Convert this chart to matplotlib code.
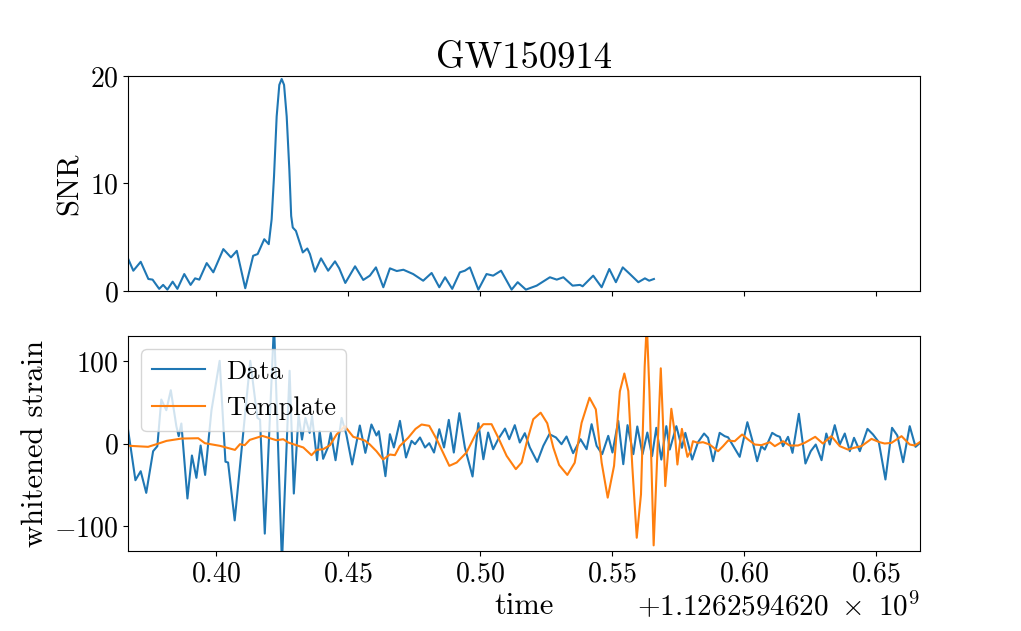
import matplotlib
matplotlib.use('Agg')
import matplotlib.pyplot as plt
from matplotlib.ticker import ScalarFormatter

# Computer Modern look (no LaTeX available)
plt.rcParams['font.family'] = 'serif'
plt.rcParams['font.serif'] = ['cmr10']
plt.rcParams['mathtext.fontset'] = 'cm'
plt.rcParams['axes.formatter.use_mathtext'] = True
plt.rcParams['font.size'] = 22

GPS_OFFSET = 1126259462.0

# ---- SNR time series (seconds after GPS_OFFSET) ----
snr_time = [0.3666, 0.3685, 0.3713, 0.3742, 0.3758, 0.3783, 0.3798, 0.3814, 0.3834, 0.3852,
            0.3878, 0.3902, 0.3919, 0.3935, 0.3963, 0.3988, 0.4026, 0.4055, 0.4077, 0.4109,
            0.4139, 0.4156, 0.4181, 0.4198, 0.4209, 0.4218, 0.4228, 0.4238, 0.4247, 0.4256,
            0.4266, 0.4276, 0.4283, 0.4289, 0.4301, 0.4313, 0.4327, 0.4344, 0.4354, 0.4373,
            0.4396, 0.4423, 0.4449, 0.4465, 0.4488, 0.4525, 0.4556, 0.4581, 0.4604, 0.4632,
            0.4657, 0.4683, 0.4708, 0.4745, 0.4783, 0.4815, 0.4844, 0.4866, 0.4893, 0.4922,
            0.4941, 0.4960, 0.4992, 0.5023, 0.5048, 0.5078, 0.5118, 0.5141, 0.5172, 0.5213,
            0.5263, 0.5289, 0.5314, 0.5349, 0.5377, 0.5387, 0.5427, 0.5459, 0.5488, 0.5513,
            0.5539, 0.5566, 0.5598, 0.5623, 0.5639, 0.5657]
snr_value = [2.96, 1.88, 2.71, 1.11, 1.05, 0.19, 0.56, 0.12, 0.86, 0.19,
             1.57, 0.56, 1.17, 1.05, 2.59, 1.73, 3.89, 3.12, 3.73, 0.25,
             3.27, 3.43, 4.81, 4.35, 6.67, 10.68, 16.23, 19.17, 19.72, 19.17,
             16.23, 11.30, 6.97, 5.90, 5.58, 4.66, 3.58, 3.95, 3.43, 1.79,
             3.03, 1.88, 2.75, 2.10, 0.74, 2.29, 1.02, 1.42, 2.19, 0.34,
             2.10, 1.85, 1.97, 1.57, 0.95, 1.67, 0.34, 1.27, 0.19, 1.73,
             1.88, 2.19, 0.12, 1.57, 1.42, 1.88, 0.12, 0.81, 0.12, 0.49,
             1.27, 1.05, 1.27, 0.49, 0.56, 0.43, 1.42, 0.34, 2.04, 0.81,
             2.19, 1.57, 0.81, 1.17, 0.95, 1.11]

# ---- whitened strain data ----
data_time = [0.3665, 0.3693, 0.3713, 0.3734, 0.3760, 0.3776, 0.3791, 0.3810, 0.3827, 0.3848,
             0.3857, 0.3867, 0.3890, 0.3907, 0.3924, 0.3940, 0.3957, 0.3981, 0.4012, 0.4034,
             0.4044, 0.4069, 0.4094, 0.4128, 0.4155, 0.4165, 0.4183, 0.4218, 0.4248, 0.4277,
             0.4293, 0.4311, 0.4324, 0.4337, 0.4353, 0.4362, 0.4381, 0.4391, 0.4404, 0.4423,
             0.4433, 0.4451, 0.4474, 0.4492, 0.4514, 0.4543, 0.4564, 0.4587, 0.4606, 0.4615,
             0.4640, 0.4657, 0.4672, 0.4695, 0.4718, 0.4739, 0.4752, 0.4771, 0.4790, 0.4806,
             0.4824, 0.4844, 0.4862, 0.4880, 0.4899, 0.4920, 0.4941, 0.4970, 0.4992, 0.5011,
             0.5029, 0.5048, 0.5067, 0.5093, 0.5109, 0.5130, 0.5149, 0.5168, 0.5187, 0.5215,
             0.5238, 0.5261, 0.5286, 0.5307, 0.5326, 0.5351, 0.5379, 0.5402, 0.5421, 0.5440,
             0.5461, 0.5484, 0.5500, 0.5522, 0.5541, 0.5557, 0.5579, 0.5594, 0.5614, 0.5632,
             0.5650, 0.5666, 0.5685, 0.5704, 0.5717, 0.5742, 0.5763, 0.5776, 0.5802, 0.5824,
             0.5847, 0.5862, 0.5881, 0.5906, 0.5925, 0.5938, 0.5982, 0.6011, 0.6029, 0.6048,
             0.6064, 0.6077, 0.6105, 0.6121, 0.6134, 0.6146, 0.6165, 0.6182, 0.6206, 0.6231,
             0.6251, 0.6270, 0.6292, 0.6310, 0.6323, 0.6342, 0.6361, 0.6380, 0.6399, 0.6415,
             0.6437, 0.6466, 0.6487, 0.6509, 0.6534, 0.6559, 0.6579, 0.6601, 0.6626, 0.6648,
             0.6665]
data_strain = [17.0, -44.4, -33.5, -59.7, -9.3, -3.2, 53.2, 40.3, 64.5, 21.0,
               8.9, 24.2, -66.5, -14.5, -41.5, -2.4, -38.0, 40.0, 100.0, -22.0,
               -23.0, -93.0, -11.3, 100.0, 31.0, 29.0, -109.0, 145.0, -145.0, 88.0,
               -60.5, 35.0, 4.8, 31.0, 12.9, 33.1, -20.2, 14.9, -18.5, -4.0,
               12.9, -20.2, 31.0, 10.9, -25.4, 21.8, -11.3, 23.0, 9.7, 14.9,
               -39.5, 11.3, -4.8, 27.4, -16.9, 3.2, -0.8, 7.3, -4.8, 0.4,
               -10.9, 17.3, -4.8, 28.6, -10.9, 36.7, -4.8, -39.9, 24.6, -19.0,
               13.3, -6.9, 5.2, 18.1, 5.2, 22.2, 1.2, 12.5, -4.8, -22.2,
               -2.8, 11.3, 7.3, -0.8, 8.5, -11.7, 5.2, -6.9, 23.4, -2.8,
               -12.9, 9.3, -10.9, 27.4, -25.0, 22.2, -12.9, 20.6, -12.9, 13.3,
               -15.3, 19.0, -19.4, 21.0, -7.3, 21.0, -5.2, 12.9, -19.4, 1.6,
               12.1, 6.9, -21.4, 12.9, 8.9, 7.5, -16.1, 25.8, 4.8, -21.4,
               -3.2, -7.3, 12.9, 9.7, 8.1, -3.2, 8.1, -11.3, 35.9, -24.2,
               -9.3, -1.2, -20.2, 12.1, -1.2, 22.2, -1.2, 12.1, -9.3, 6.9,
               -9.3, 17.7, 10.9, 1.6, -43.5, 19.0, 9.7, -22.6, 21.0, -4.0,
               0.8]

# ---- whitened template ----
template_time = [0.3665, 0.3672, 0.3741, 0.3773, 0.3811, 0.3868, 0.3931, 0.3956, 0.4013, 0.4070,
                 0.4089, 0.4107, 0.4126, 0.4174, 0.4227, 0.4253, 0.4272, 0.4291, 0.4329, 0.4360,
                 0.4379, 0.4404, 0.4430, 0.4455, 0.4486, 0.4518, 0.4543, 0.4562, 0.4581, 0.4606,
                 0.4631, 0.4657, 0.4676, 0.4694, 0.4726, 0.4754, 0.4777, 0.4806, 0.4834, 0.4882,
                 0.4910, 0.4947, 0.4985, 0.5011, 0.5042, 0.5067, 0.5099, 0.5134, 0.5156, 0.5175,
                 0.5200, 0.5228, 0.5253, 0.5276, 0.5298, 0.5329, 0.5357, 0.5383, 0.5413, 0.5437,
                 0.5459, 0.5482, 0.5506, 0.5528, 0.5545, 0.5560, 0.5575, 0.5592, 0.5608, 0.5622,
                 0.5630, 0.5640, 0.5656, 0.5669, 0.5683, 0.5691, 0.5700, 0.5710, 0.5723, 0.5736,
                 0.5746, 0.5754, 0.5763, 0.5773, 0.5784, 0.5796, 0.5805, 0.5824, 0.5843, 0.5868,
                 0.5900, 0.5919, 0.5938, 0.5963, 0.5991, 0.6014, 0.6039, 0.6064, 0.6096, 0.6115,
                 0.6146, 0.6171, 0.6203, 0.6228, 0.6268, 0.6297, 0.6329, 0.6361, 0.6392, 0.6415,
                 0.6443, 0.6481, 0.6512, 0.6531, 0.6557, 0.6595, 0.6626, 0.6645, 0.6664]
template_strain = [-2.4, -2.8, -4.0, -0.8, 3.2, 6.0, 6.4, 0.4, -2.8, -7.7,
                   -0.8, -2.0, 4.4, 9.2, 4.0, 5.2, 1.2, -0.8, -4.8, -14.1,
                   -7.7, -6.9, -2.0, 10.9, 21.0, 8.1, 5.6, 3.6, -1.2, -9.3,
                   -19.4, -13.3, -14.1, -3.2, 6.9, 17.7, 23.0, 21.4, 5.2, -27.0,
                   -23.0, -10.9, 13.3, 23.4, 23.4, 7.3, -14.9, -31.0, -23.0, 1.2,
                   29.4, 37.3, 24.5, -5.0, -26.0, -38.0, -23.2, 25.0, 55.4, 41.3,
                   -23.2, -65.5, -27.0, 63.0, 84.7, 63.5, -27.0, -114.0, -61.5, 93.0,
                   146.0, 63.0, -123.2, -20.0, 91.0, 29.0, -51.5, -13.0, 42.0, 12.9,
                   -25.4, -3.2, 17.7, 0.8, -16.1, -9.3, 2.8, 0.8, 1.6, -1.2,
                   -9.3, -3.2, 3.6, 2.8, 10.9, 4.8, -1.2, -2.0, 1.6, -3.2,
                   2.8, -2.4, -2.4, 0.8, 8.1, 0.0, 8.9, -3.2, -7.3, -5.2,
                   -3.2, 5.6, 1.6, 0.0, 0.8, 8.9, -1.2, -2.4, 1.6]


class GPSFormatter(ScalarFormatter):
    # old-style offset string: +1.1262594620 x 10^9
    def get_offset(self):
        if not self.offset:
            return ''
        mant, exp = ('%1.10e' % self.offset).split('e')
        return r'$\mathdefault{+%s\ \times\ 10^{%d}}$' % (mant, int(exp))


def gps(times):
    return [GPS_OFFSET + t for t in times]


fig, (ax1, ax2) = plt.subplots(2, 1, sharex=True, figsize=(10.21, 6.31), dpi=100)
fig.subplots_adjust(left=0.1254, right=0.9011, top=0.8796, bottom=0.1268, hspace=0.21)

ax1.plot(gps(snr_time), snr_value)
ax1.set_ylabel('SNR', fontsize=22)
ax1.set_title('GW150914', fontsize=26.4)
ax1.set_ylim(0, 20)
ax1.set_yticks([0, 10, 20])

ax2.plot(gps(data_time), data_strain, label='Data')
ax2.plot(gps(template_time), template_strain, label='Template')
ax2.set_ylabel('whitened strain', fontsize=22)
ax2.set_xlabel('time', fontsize=22)
ax2.set_ylim(-130, 130)
ax2.set_yticks([-100, 0, 100])
ax2.set_xlim(GPS_OFFSET + 0.3665, GPS_OFFSET + 0.6665)
ax2.xaxis.set_major_formatter(GPSFormatter())
ax2.legend(loc='upper left', fontsize=19)

for ax in (ax1, ax2):
    ax.tick_params(labelsize=20)
ax2.xaxis.get_offset_text().set_fontsize(21)

plt.savefig('out.png', dpi=100)
